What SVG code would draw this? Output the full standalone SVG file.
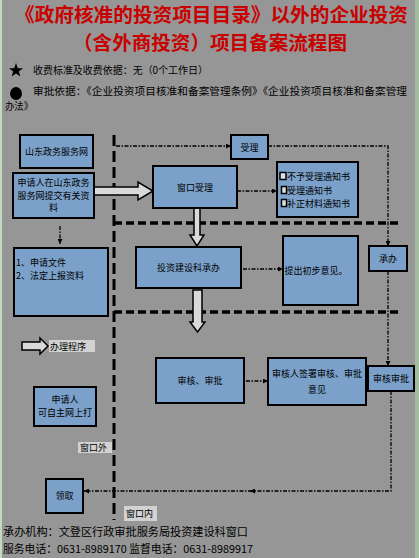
<svg xmlns="http://www.w3.org/2000/svg" width="419" height="558" viewBox="0 0 419 558">
<style>
text{font-family:"Noto Sans CJK SC","Liberation Sans",sans-serif;fill:#000}
.title{font-size:19.5px;font-weight:bold;fill:#c80000}
.hd{font-size:10px}
.t{font-size:9px}
.ft{font-size:11px}
.box{fill:#7ba0c9;stroke:#000;stroke-width:2}
.lbl{fill:#d2d2d2}
.sq{fill:#e0e0e0;stroke:#000;stroke-width:1.5}
.blk{fill:#d9d9d9;stroke:#000;stroke-width:1.5}
.dd{fill:none;stroke:#000;stroke-width:1.3;stroke-dasharray:4,1.5,1.5,1.5}
.dv{fill:none;stroke:#000;stroke-width:3;stroke-dasharray:11,5}
.dh{fill:none;stroke:#000;stroke-width:3.5;stroke-dasharray:8,4}
</style>
<defs>
<marker id="ah" viewBox="0 0 10 10" refX="10" refY="5" markerWidth="5" markerHeight="5" orient="auto" markerUnits="userSpaceOnUse">
<path d="M0,0 L10,5 L0,10 z" fill="#000"/>
</marker>
</defs>
<rect x="0" y="0" width="419" height="558" fill="#969696"/>
<rect x="0" y="0" width="2" height="558" fill="#c2dabd"/>
<rect x="415" y="0" width="4" height="558" fill="#a3bca0"/>

<g id="header">
<text class="title" x="15" y="21.5" textLength="393" lengthAdjust="spacingAndGlyphs">《政府核准的投资项目目录》以外的企业投资</text>
<text class="title" x="73" y="49.5" textLength="274" lengthAdjust="spacingAndGlyphs">（含外商投资）项目备案流程图</text>
<polygon points="16,63 17.8,68.2 23,68.2 18.8,71.5 20.4,76.5 16,73.4 11.6,76.5 13.2,71.5 9,68.2 14.2,68.2" fill="#000"/>
<text class="hd" x="33" y="74" textLength="175" lengthAdjust="spacingAndGlyphs">收费标准及收费依据：无（0个工作日）</text>
<ellipse cx="16" cy="93.5" rx="6" ry="6.5" fill="#000"/>
<text class="hd" x="33" y="94.5" textLength="374" lengthAdjust="spacingAndGlyphs">审批依据：《企业投资项目核准和备案管理条例》《企业投资项目核准和备案管理</text>
<text class="hd" x="5" y="110" textLength="28" lengthAdjust="spacingAndGlyphs">办法》</text>
</g>

<g id="connectors">
<path class="dv" d="M114,135 V520"/>
<path class="dh" d="M114,223 H398"/>
<path class="dh" d="M114,312 H399"/>
<path class="dd" d="M116,146 H231" marker-end="url(#ah)"/>
<path class="dd" d="M268,146 H388 V246" marker-end="url(#ah)"/>
<path class="dd" d="M237,191 H277" marker-end="url(#ah)"/>
<path class="dd" d="M243,269 H283" marker-end="url(#ah)"/>
<path class="dd" d="M246,381 H268" marker-end="url(#ah)"/>
<path class="dd" d="M388,271 V366" marker-end="url(#ah)"/>
<path class="dd" d="M391,391 V491 H250" marker-end="url(#ah)"/>
<path class="dd" d="M252,491 H84" marker-end="url(#ah)"/>
<path class="dd" d="M60,226 V244" marker-end="url(#ah)"/>
<polygon class="blk" points="94,187 138,187 138,182 153,191 138,200 138,195 94,195"/>
<polygon class="blk" points="194,208 200,208 200,235 204,235 197,246 190,235 194,235"/>
<polygon class="blk" points="193,290 202,290 202,322 205,322 197.5,332 190,322 193,322"/>
</g>

<g id="n-zwfw"><rect class="box" x="20" y="135" width="73" height="33"/><text class="t" x="56.5" y="155" text-anchor="middle">山东政务服务网</text></g>
<g id="n-apply"><rect class="box" x="13" y="173" width="81" height="45"/>
<text class="t" x="53.5" y="185.5" text-anchor="middle">申请人在山东政务</text>
<text class="t" x="53.5" y="198.5" text-anchor="middle">服务网提交有关资</text>
<text class="t" x="53.5" y="211" text-anchor="middle">料</text></g>
<g id="n-docs"><rect class="box" x="14" y="248" width="94" height="68"/>
<text class="t" x="16" y="265.5">1、申请文件</text>
<text class="t" x="16" y="278.5">2、法定上报资料</text></g>
<g id="n-shouli"><rect class="box" x="231" y="135" width="37" height="24"/><text class="t" x="249.5" y="150.5" text-anchor="middle">受理</text></g>
<g id="n-window"><rect class="box" x="153" y="166" width="84" height="42"/><text class="t" x="195" y="190.5" text-anchor="middle">窗口受理</text></g>
<g id="n-notice"><rect class="box" x="277" y="162" width="81" height="55"/>
<rect class="sq" x="280" y="172.5" width="6" height="7"/>
<rect class="sq" x="281.5" y="186.5" width="5" height="7"/>
<rect class="sq" x="281.5" y="199.5" width="5" height="7"/>
<text class="t" x="287" y="179.5">不予受理通知书</text>
<text class="t" x="287" y="193.5">受理通知书</text>
<text class="t" x="287" y="206.5">补正材料通知书</text></g>
<g id="n-chengban"><rect class="box" x="136" y="247" width="105" height="41"/><text class="t" x="188.5" y="270.5" text-anchor="middle">投资建设科承办</text></g>
<g id="n-opinion"><rect class="box" x="283" y="236" width="75" height="69"/><text class="t" x="284.5" y="273.5">提出初步意见。</text></g>
<g id="n-cb2"><rect class="box" x="369" y="246" width="38" height="25"/><text class="t" x="388" y="262" text-anchor="middle">承办</text></g>
<g id="n-shenhe"><rect class="box" x="156" y="358" width="88" height="45"/><text class="t" x="200" y="383.5" text-anchor="middle">审核、审批</text></g>
<g id="n-sign"><rect class="box" x="268" y="358" width="98" height="47"/>
<text class="t" x="317" y="376.5" text-anchor="middle">审核人签署审核、审批</text>
<text class="t" x="317" y="392.5" text-anchor="middle">意见</text></g>
<g id="n-shsp"><rect class="box" x="368" y="366" width="46" height="25"/><text class="t" x="391" y="382" text-anchor="middle">审核审批</text></g>
<g id="n-online"><rect class="box" x="34" y="387" width="62" height="39"/>
<text class="t" x="65" y="402.5" text-anchor="middle">申请人</text>
<text class="t" x="65" y="415.5" text-anchor="middle">可自主网上打</text></g>
<g id="n-lingqu"><rect class="box" x="46" y="479" width="37" height="34"/><text class="t" x="64.5" y="499" text-anchor="middle">领取</text></g>

<g id="legend">
<polygon class="blk" points="22,342 40,342 40,338 48,346 40,354 40,350 22,350"/>
<rect class="lbl" x="49" y="340" width="46" height="12"/>
<text class="t" x="50" y="349.5">办理程序</text>
<rect class="lbl" x="78" y="442" width="34" height="11"/>
<text class="t" x="80" y="451">窗口外</text>
<rect class="lbl" x="124" y="506" width="33" height="15"/>
<text class="t" x="126" y="517">窗口内</text>
</g>

<g id="footer">
<text class="ft" x="3" y="536" textLength="245" lengthAdjust="spacingAndGlyphs">承办机构：文登区行政审批服务局投资建设科窗口</text>
<text class="ft" x="3" y="553" textLength="250" lengthAdjust="spacingAndGlyphs">服务电话：0631-8989170 监督电话：0631-8989917</text>
</g>
</svg>
